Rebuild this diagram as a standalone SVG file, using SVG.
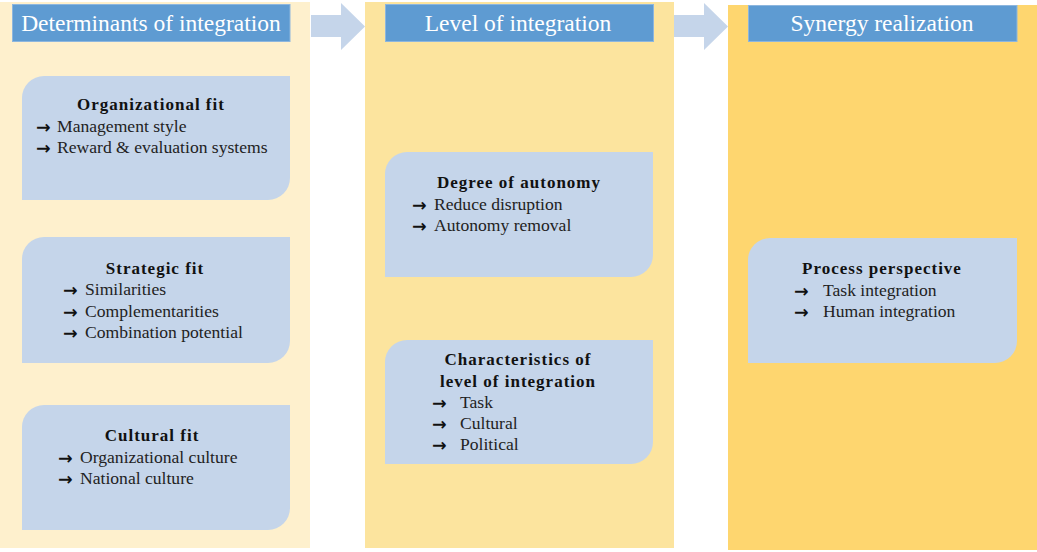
<svg xmlns="http://www.w3.org/2000/svg" width="1037" height="552" viewBox="0 0 1037 552">
  <defs>
    <style>
      .hdr { fill: #5E9BD2; stroke: #8DB6DE; stroke-width: 1; }
      .hdr-t { font-family: "Liberation Serif", serif; font-size: 23.5px; fill: #FFFFFF; text-anchor: middle; }
      .card { fill: #C5D5EA; }
      .ttl { font-family: "Liberation Serif", serif; font-size: 17px; font-weight: bold; letter-spacing: 1px; fill: #111111; text-anchor: middle; }
      .itm { font-family: "Liberation Serif", serif; font-size: 17.6px; fill: #222222; }
      .arw { font-family: "DejaVu Sans", sans-serif; font-size: 17.5px; font-weight: bold; fill: #111111; }
      .flow { fill: #C5D5EA; }
    </style>
  </defs>

  <rect width="1037" height="552" fill="#FFFFFF"/>

  <!-- stage backgrounds -->
  <g id="stage-determinants">
    <rect x="0" y="2" width="310" height="546" fill="#FEF0CD"/>
    <rect class="hdr" x="12.5" y="4.5" width="277.5" height="37"/>
    <text class="hdr-t" x="151" y="31">Determinants of integration</text>
  </g>
  <g id="stage-level">
    <rect x="365" y="2" width="309" height="546" fill="#FCE49E"/>
    <rect class="hdr" x="385.5" y="4.5" width="268" height="37"/>
    <text class="hdr-t" x="518" y="31">Level of integration</text>
  </g>
  <g id="stage-synergy">
    <rect x="728" y="5" width="309" height="545" fill="#FED66F"/>
    <rect class="hdr" x="748.5" y="5.5" width="268.5" height="36"/>
    <text class="hdr-t" x="882" y="31">Synergy realization</text>
  </g>

  <!-- flow arrows between stages -->
  <g id="connectors">
    <path class="flow" d="M311,15 H341 V3 L365,26.5 L341,50 V37 H311 Z"/>
    <path class="flow" d="M674,15 H704 V3 L728,26.5 L704,50 V37 H674 Z"/>
  </g>

  <!-- cards: rounded top-left and bottom-right corners -->
  <g id="organizational-fit">
    <path class="card" d="M44,76 H290 V178 A22,22 0 0 1 268,200 H22 V98 A22,22 0 0 1 44,76 Z"/>
    <text class="ttl" x="151" y="110">Organizational fit</text>
    <text class="arw" x="36" y="133">→</text>
    <text class="itm" x="57" y="132">Management style</text>
    <text class="arw" x="36" y="154">→</text>
    <text class="itm" x="57" y="153">Reward &amp; evaluation systems</text>
  </g>

  <g id="strategic-fit">
    <path class="card" d="M44,237 H290 V341 A22,22 0 0 1 268,363 H22 V259 A22,22 0 0 1 44,237 Z"/>
    <text class="ttl" x="155" y="274">Strategic fit</text>
    <text class="arw" x="63" y="296">→</text>
    <text class="itm" x="85" y="295">Similarities</text>
    <text class="arw" x="63" y="318">→</text>
    <text class="itm" x="85" y="317">Complementarities</text>
    <text class="arw" x="63" y="339">→</text>
    <text class="itm" x="85" y="338">Combination potential</text>
  </g>

  <g id="cultural-fit">
    <path class="card" d="M44,405 H290 V508 A22,22 0 0 1 268,530 H22 V427 A22,22 0 0 1 44,405 Z"/>
    <text class="ttl" x="152" y="441">Cultural fit</text>
    <text class="arw" x="58" y="464">→</text>
    <text class="itm" x="80" y="463">Organizational culture</text>
    <text class="arw" x="58" y="485">→</text>
    <text class="itm" x="80" y="484">National culture</text>
  </g>

  <g id="degree-of-autonomy">
    <path class="card" d="M407,152 H653 V255 A22,22 0 0 1 631,277 H385 V174 A22,22 0 0 1 407,152 Z"/>
    <text class="ttl" x="519" y="188">Degree of autonomy</text>
    <text class="arw" x="412" y="211">→</text>
    <text class="itm" x="434" y="210">Reduce disruption</text>
    <text class="arw" x="412" y="232">→</text>
    <text class="itm" x="434" y="231">Autonomy removal</text>
  </g>

  <g id="characteristics">
    <path class="card" d="M407,340 H653 V442 A22,22 0 0 1 631,464 H385 V362 A22,22 0 0 1 407,340 Z"/>
    <text class="ttl" x="518" y="365">Characteristics of</text>
    <text class="ttl" x="518" y="387">level of integration</text>
    <text class="arw" x="432" y="409">→</text>
    <text class="itm" x="460" y="408">Task</text>
    <text class="arw" x="432" y="430">→</text>
    <text class="itm" x="460" y="429">Cultural</text>
    <text class="arw" x="432" y="451">→</text>
    <text class="itm" x="460" y="450">Political</text>
  </g>

  <g id="process-perspective">
    <path class="card" d="M770,238 H1017 V341 A22,22 0 0 1 995,363 H748 V260 A22,22 0 0 1 770,238 Z"/>
    <text class="ttl" x="882" y="274">Process perspective</text>
    <text class="arw" x="794" y="297">→</text>
    <text class="itm" x="823" y="296">Task integration</text>
    <text class="arw" x="794" y="318">→</text>
    <text class="itm" x="823" y="317">Human integration</text>
  </g>
</svg>
